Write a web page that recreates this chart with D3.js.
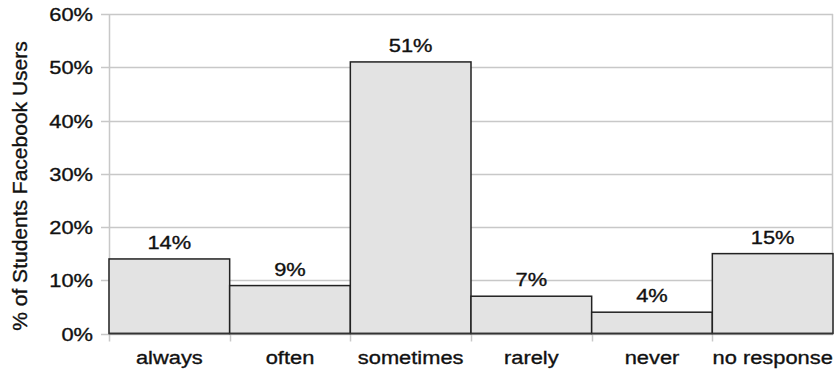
<!DOCTYPE html>
<html>
<head>
<meta charset="utf-8">
<script src="https://cdn.jsdelivr.net/npm/d3@7"></script>
<style>
  html, body { margin: 0; padding: 0; background: #fff; }
  svg { display: block; font-family: "Liberation Sans", Arial, sans-serif; }
  svg text { fill: #111; stroke: #111; stroke-width: 0.35px; }
</style>
</head>
<body>
<svg id="chart" width="840" height="370"></svg>
<script>
// Share of student Facebook users by response
const categories = ["always", "often", "sometimes", "rarely", "never", "no response"];
const values = [14, 9, 51, 7, 4, 15];
const yTicks = [0, 10, 20, 30, 40, 50, 60];
const yTitle = "% of Students Facebook Users";

const svg = d3.select("#chart");
const margin = { top: 14, right: 7, bottom: 36.5, left: 109 };
const width = 840 - margin.left - margin.right;
const height = 370 - margin.top - margin.bottom;

// labels use a slightly widened sans face
const fontSize = 19;
const widen = 1.15;
const place = (px, py) => `translate(${px},${py}) scale(${widen},1)`;

const g = svg.append("g").attr("transform", `translate(${margin.left},${margin.top})`);

const x = d3.scaleBand().domain(categories).range([0, width]).paddingInner(0).paddingOuter(0);
const y = d3.scaleLinear().domain([0, 60]).range([height, 0]);

// horizontal gridlines with short stubs left of the axis
g.append("g")
  .selectAll("line")
  .data(yTicks)
  .join("line")
  .attr("x1", -8)
  .attr("x2", width)
  .attr("y1", d => Math.round(y(d)) + 0.5)
  .attr("y2", d => Math.round(y(d)) + 0.5)
  .attr("stroke", "#c8c8c8")
  .attr("stroke-width", 1.5);

// left and right frame lines
g.append("line")
  .attr("x1", 0.5).attr("x2", 0.5)
  .attr("y1", 0).attr("y2", height + 8)
  .attr("stroke", "#c8c8c8").attr("stroke-width", 1.5);
g.append("line")
  .attr("x1", width - 0.5).attr("x2", width - 0.5)
  .attr("y1", 0).attr("y2", height)
  .attr("stroke", "#c8c8c8").attr("stroke-width", 1.5);

// category separator ticks below the baseline
g.append("g")
  .selectAll("line")
  .data(categories.slice(1))
  .join("line")
  .attr("x1", d => Math.round(x(d)) + 0.5)
  .attr("x2", d => Math.round(x(d)) + 0.5)
  .attr("y1", height)
  .attr("y2", height + 8)
  .attr("stroke", "#c8c8c8")
  .attr("stroke-width", 1.5);

// bars
g.append("g")
  .selectAll("rect")
  .data(values)
  .join("rect")
  .attr("x", (d, i) => x(categories[i]))
  .attr("y", d => y(d))
  .attr("width", x.bandwidth())
  .attr("height", d => height - y(d))
  .attr("fill", "#e3e3e3")
  .attr("stroke", "#222")
  .attr("stroke-width", 1.5);

// baseline
g.append("line")
  .attr("x1", 0).attr("x2", width)
  .attr("y1", height).attr("y2", height)
  .attr("stroke", "#333").attr("stroke-width", 1.5);

// value labels
g.append("g")
  .selectAll("text")
  .data(values)
  .join("text")
  .attr("transform", (d, i) => place(x(categories[i]) + x.bandwidth() / 2, y(d) - 10))
  .attr("text-anchor", "middle")
  .attr("font-size", fontSize)
  .text(d => d + "%");

// y tick labels
g.append("g")
  .selectAll("text")
  .data(yTicks)
  .join("text")
  .attr("transform", d => place(-16, y(d) + 7))
  .attr("text-anchor", "end")
  .attr("font-size", fontSize)
  .text(d => d + "%");

// x category labels
g.append("g")
  .selectAll("text")
  .data(categories)
  .join("text")
  .attr("transform", d => place(x(d) + x.bandwidth() / 2, height + 30.5))
  .attr("text-anchor", "middle")
  .attr("font-size", fontSize)
  .text(d => d);

// y axis title
svg.append("text")
  .attr("transform", `translate(27,186) rotate(-90)`)
  .attr("text-anchor", "middle")
  .attr("font-size", 21)
  .text(yTitle);
</script>
</body>
</html>
